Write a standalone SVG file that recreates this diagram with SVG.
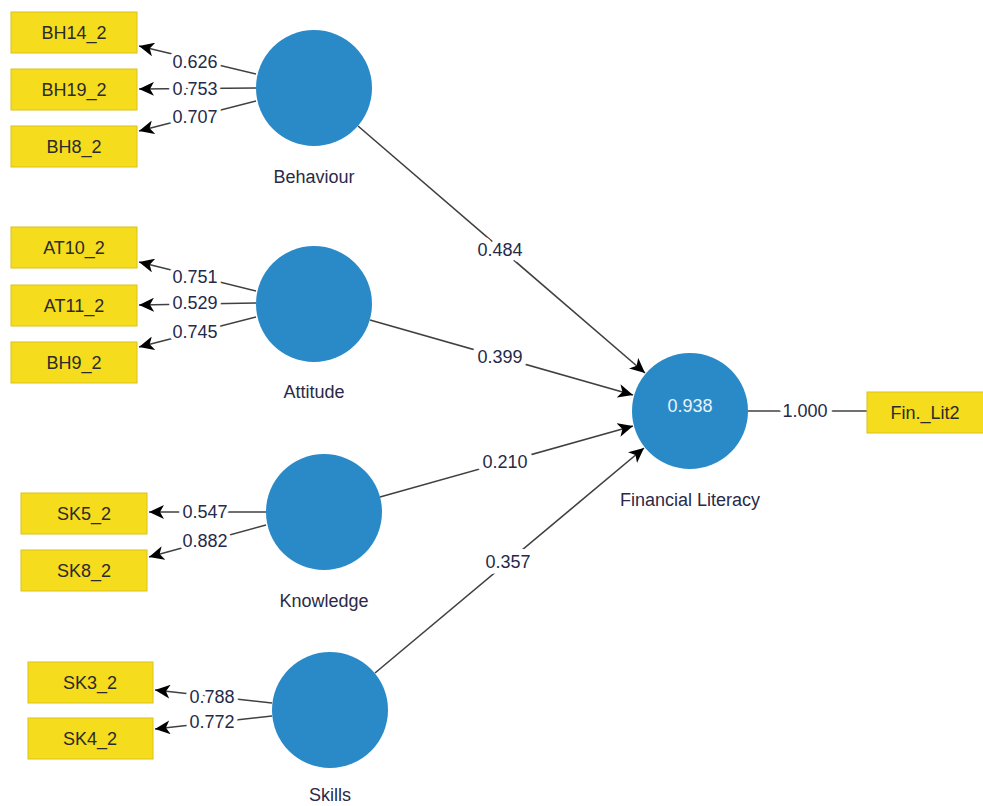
<svg xmlns="http://www.w3.org/2000/svg" width="983" height="806" viewBox="0 0 983 806">
<style>
text{font-family:"Liberation Sans",Arial,sans-serif;}
.box{fill:#f5dc1c;stroke:#d9c21a;stroke-width:1}
.bt{font-size:18px;fill:#2b2b2b;text-anchor:middle}
.lv{fill:#2a8ac8}
.nl{font-size:18px;fill:#2a2a48;text-anchor:middle}
.ln{stroke:#404040;stroke-width:1.6;fill:none}
.lb{font-size:18px;fill:#252a4a;text-anchor:middle;stroke:#fff;stroke-width:8;paint-order:stroke;stroke-linejoin:round}
</style>
<defs>
<marker id="ah" markerUnits="userSpaceOnUse" markerWidth="16" markerHeight="14" refX="15" refY="7" orient="auto">
<path d="M0,0 L15,7 L0,14 L4,7 Z" fill="#000"/>
</marker>
</defs>
<rect width="983" height="806" fill="#fff"/>
<g id="connectors">
<line class="ln" x1="256" y1="74" x2="139" y2="46" marker-end="url(#ah)"/>
<line class="ln" x1="256" y1="88" x2="139" y2="89" marker-end="url(#ah)"/>
<line class="ln" x1="256" y1="101" x2="139" y2="131" marker-end="url(#ah)"/>
<line class="ln" x1="256" y1="291" x2="139" y2="262" marker-end="url(#ah)"/>
<line class="ln" x1="256" y1="303" x2="139" y2="305" marker-end="url(#ah)"/>
<line class="ln" x1="256" y1="317" x2="139" y2="347" marker-end="url(#ah)"/>
<line class="ln" x1="266" y1="512" x2="149" y2="512" marker-end="url(#ah)"/>
<line class="ln" x1="266" y1="525" x2="149" y2="557" marker-end="url(#ah)"/>
<line class="ln" x1="272" y1="703" x2="155" y2="690" marker-end="url(#ah)"/>
<line class="ln" x1="272" y1="716" x2="155" y2="729" marker-end="url(#ah)"/>
<line class="ln" x1="358" y1="126" x2="645" y2="373" marker-end="url(#ah)"/>
<line class="ln" x1="370" y1="320" x2="633" y2="395" marker-end="url(#ah)"/>
<line class="ln" x1="380" y1="497" x2="633" y2="426" marker-end="url(#ah)"/>
<line class="ln" x1="375" y1="673" x2="644" y2="448" marker-end="url(#ah)"/>
<line class="ln" x1="748" y1="411" x2="867" y2="411"/>
<text class="lb" x="195" y="68">0.626</text>
<text class="lb" x="195" y="95">0.753</text>
<text class="lb" x="195" y="123">0.707</text>
<text class="lb" x="195" y="283">0.751</text>
<text class="lb" x="195" y="309">0.529</text>
<text class="lb" x="195" y="338">0.745</text>
<text class="lb" x="205" y="518">0.547</text>
<text class="lb" x="205" y="547">0.882</text>
<text class="lb" x="212" y="703">0.788</text>
<text class="lb" x="212" y="728">0.772</text>
<text class="lb" x="500" y="256" style="stroke-width:12">0.484</text>
<text class="lb" x="500" y="363" style="stroke-width:12">0.399</text>
<text class="lb" x="505" y="468" style="stroke-width:12">0.210</text>
<text class="lb" x="508" y="568" style="stroke-width:12">0.357</text>
<text class="lb" x="805" y="417" style="stroke-width:10">1.000</text>
</g>
<g id="BH14_2"><rect class="box" x="11" y="12" width="126" height="41"/><text class="bt" x="74" y="39">BH14_2</text></g>
<g id="BH19_2"><rect class="box" x="11" y="69" width="126" height="41"/><text class="bt" x="74" y="96">BH19_2</text></g>
<g id="BH8_2"><rect class="box" x="11" y="126" width="126" height="41"/><text class="bt" x="74" y="153">BH8_2</text></g>
<g id="AT10_2"><rect class="box" x="11" y="227" width="126" height="41"/><text class="bt" x="74" y="254">AT10_2</text></g>
<g id="AT11_2"><rect class="box" x="11" y="285" width="126" height="41"/><text class="bt" x="74" y="312">AT11_2</text></g>
<g id="BH9_2"><rect class="box" x="11" y="342" width="126" height="41"/><text class="bt" x="74" y="369">BH9_2</text></g>
<g id="SK5_2"><rect class="box" x="21" y="493" width="126" height="41"/><text class="bt" x="84" y="520">SK5_2</text></g>
<g id="SK8_2"><rect class="box" x="21" y="550" width="126" height="41"/><text class="bt" x="84" y="577">SK8_2</text></g>
<g id="SK3_2"><rect class="box" x="28" y="662" width="125" height="41"/><text class="bt" x="90" y="689">SK3_2</text></g>
<g id="SK4_2"><rect class="box" x="28" y="718" width="125" height="41"/><text class="bt" x="90" y="745">SK4_2</text></g>
<g id="Fin_Lit2"><rect class="box" x="867" y="392" width="120" height="41"/><text class="bt" x="925" y="419">Fin._Lit2</text></g>
<g id="Behaviour"><circle class="lv" cx="314" cy="88" r="58"/><text class="nl" x="314" y="183">Behaviour</text></g>
<g id="Attitude"><circle class="lv" cx="314" cy="304" r="58"/><text class="nl" x="314" y="398">Attitude</text></g>
<g id="Knowledge"><circle class="lv" cx="324" cy="512" r="58"/><text class="nl" x="324" y="607">Knowledge</text></g>
<g id="Skills"><circle class="lv" cx="330" cy="710" r="58"/><text class="nl" x="330" y="801">Skills</text></g>
<g id="Financial_Literacy"><circle class="lv" cx="690" cy="411" r="58"/><text x="690" y="412" style="font-size:18px;fill:#e8f2fa;text-anchor:middle">0.938</text><text class="nl" x="690" y="506">Financial Literacy</text></g>
</svg>
